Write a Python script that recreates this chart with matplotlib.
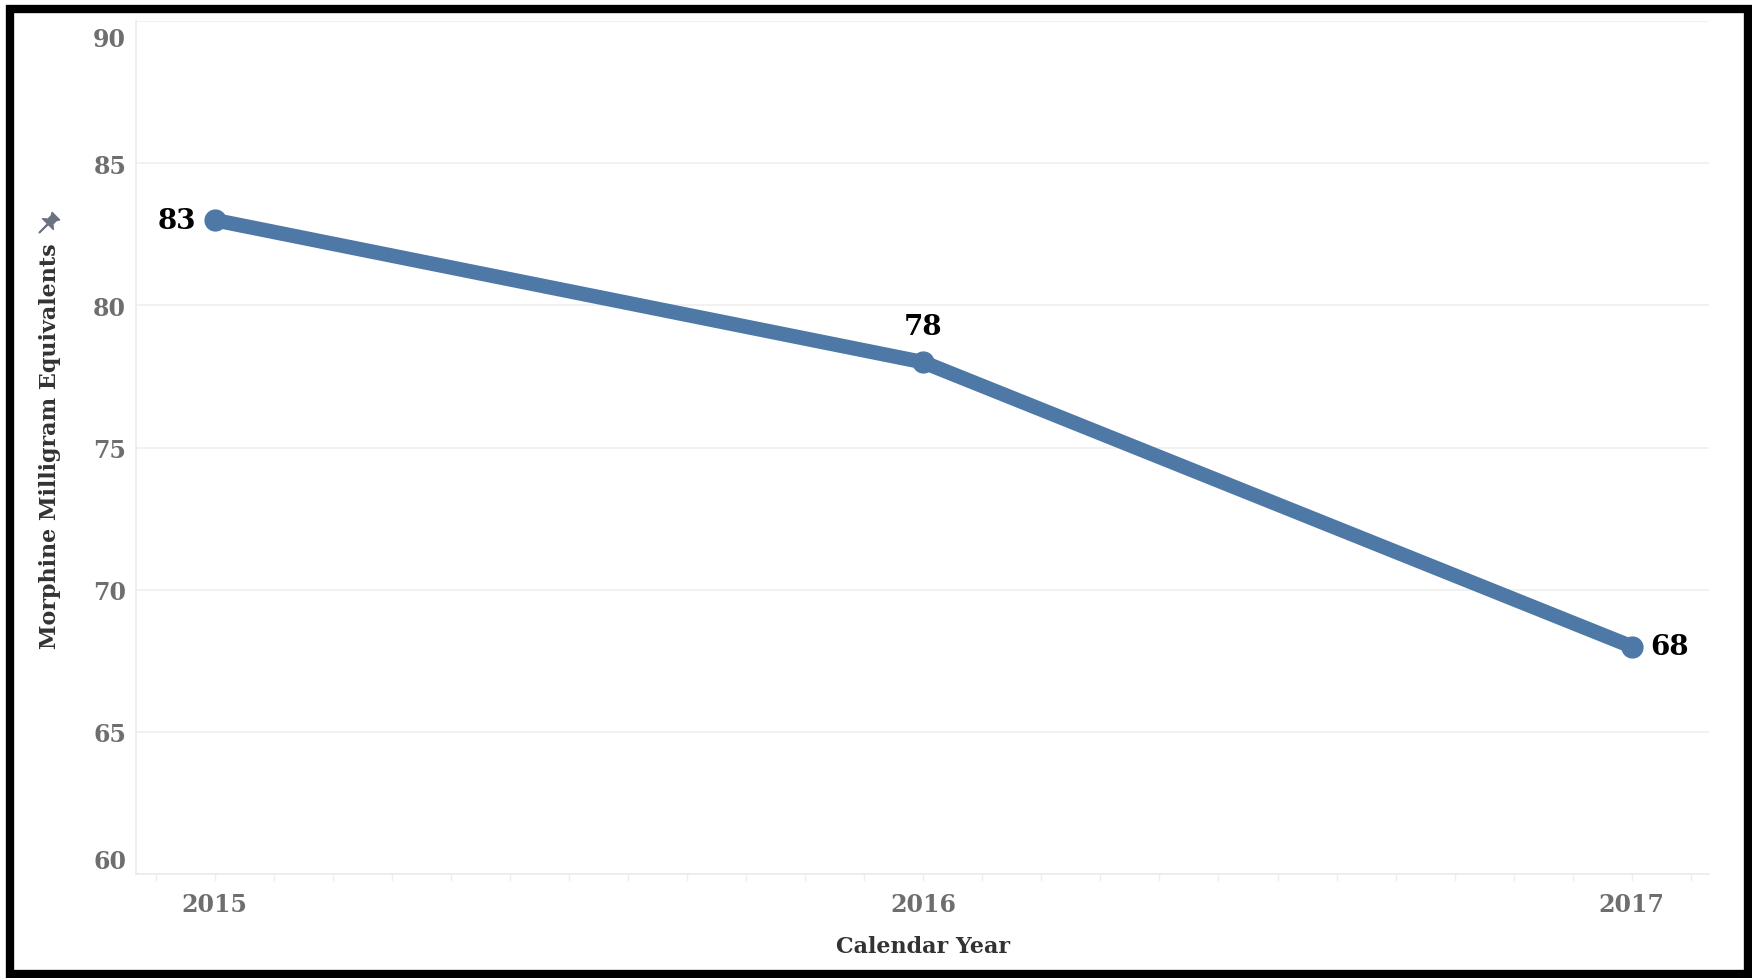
import numpy as np
import matplotlib
matplotlib.use("Agg")
import matplotlib.pyplot as plt
from matplotlib.path import Path
from matplotlib.markers import MarkerStyle
from matplotlib.transforms import Affine2D, ScaledTranslation
from matplotlib.patches import Rectangle

years = [2015, 2016, 2017]
mme = [83, 78, 68]
label_offsets = [(-13, 0), (0, 26), (13, 0)]  # points, per data label
label_align = ["right", "center", "left"]
yticks = [60, 65, 70, 75, 80, 85, 90]

blue = "#4e79a7"
tick_gray = "#6e6e6e"
grid_col = "#efefef"

plt.rcParams['font.family'] = ['DejaVu Serif']
plt.rcParams['font.weight'] = 'bold'

fig = plt.figure(figsize=(17.52, 9.79), dpi=100)
ax = fig.add_axes([0.0776, 0.1062, 0.9755 - 0.0776, 0.9775 - 0.1062])

ax.plot(years, mme, color=blue, lw=10.5, solid_capstyle="round",
        solid_joinstyle="round", marker="o", ms=15, mec=blue, mfc=blue, zorder=3)

for x, y, off, ha in zip(years, mme, label_offsets, label_align):
    ax.annotate(str(y), (x, y), xytext=off, textcoords="offset points",
                ha=ha, va="center", fontsize=20, fontweight="bold", color="black", zorder=4)

ax.set_xlim(2015 - 0.111, 2017 + 0.109)
ax.set_ylim(60, 90)
ax.set_yticks(yticks)
ax.set_xticks(years)
ax.set_xticks(np.arange(2014 + 11 / 12, 2017.1, 1 / 12), minor=True)
ax.set_xticklabels([str(y) for y in years])

ax.yaxis.grid(True, color=grid_col, lw=1.2)
ax.set_axisbelow(True)
for s in ["top", "right"]:
    ax.spines[s].set_visible(False)
for s in ["left", "bottom"]:
    ax.spines[s].set_color("#ebebeb")
    ax.spines[s].set_linewidth(1.2)

ax.tick_params(axis="y", length=0, pad=7, labelsize=17, labelcolor=tick_gray)
ax.tick_params(axis="x", which="both", length=5, color="#eeeeee", width=1)
ax.tick_params(axis="x", which="major", pad=8, labelsize=17, labelcolor=tick_gray)

# Tableau nudges the end labels inside the axis range
ylabels = ax.get_yticklabels()
ylabels[-1].set_transform(ylabels[-1].get_transform() + ScaledTranslation(0, -11 / 72, fig.dpi_scale_trans))
ylabels[0].set_transform(ylabels[0].get_transform() + ScaledTranslation(0, 11 / 72, fig.dpi_scale_trans))

ax.set_xlabel("Calendar Year", fontsize=16, fontweight="bold", color="#333333", va="center")
ax.xaxis.set_label_coords(0.5, -0.0844)
ax.set_ylabel("Morphine Milligram Equivalents", fontsize=16, fontweight="bold",
              color="#333333", va="center")
ax.yaxis.set_label_coords(-0.0547, 0.503)

# small pushpin icon next to the axis title
pin = Path([(-0.45, 1.0), (0.45, 1.0), (0.3, 0.75), (0.3, 0.35), (0.65, 0.05),
            (0.05, 0.05), (0.0, -1.0), (-0.05, 0.05), (-0.65, 0.05), (-0.3, 0.35),
            (-0.3, 0.75), (-0.45, 1.0)], closed=True)
pin_marker = MarkerStyle(pin, transform=Affine2D().rotate_deg(-45))
ax.plot([-0.0566], [0.762], transform=ax.transAxes, marker=pin_marker, ms=17,
        color="#6b7280", mec="#6b7280", clip_on=False, ls="none")

# black frame around the whole image
fig.add_artist(Rectangle((10 / 1752, 4 / 979), 1 - 14 / 1752, 1 - 14 / 979,
                         transform=fig.transFigure, fill=False, ec="black", lw=6, zorder=10))

fig.savefig("out.png", dpi=100)
